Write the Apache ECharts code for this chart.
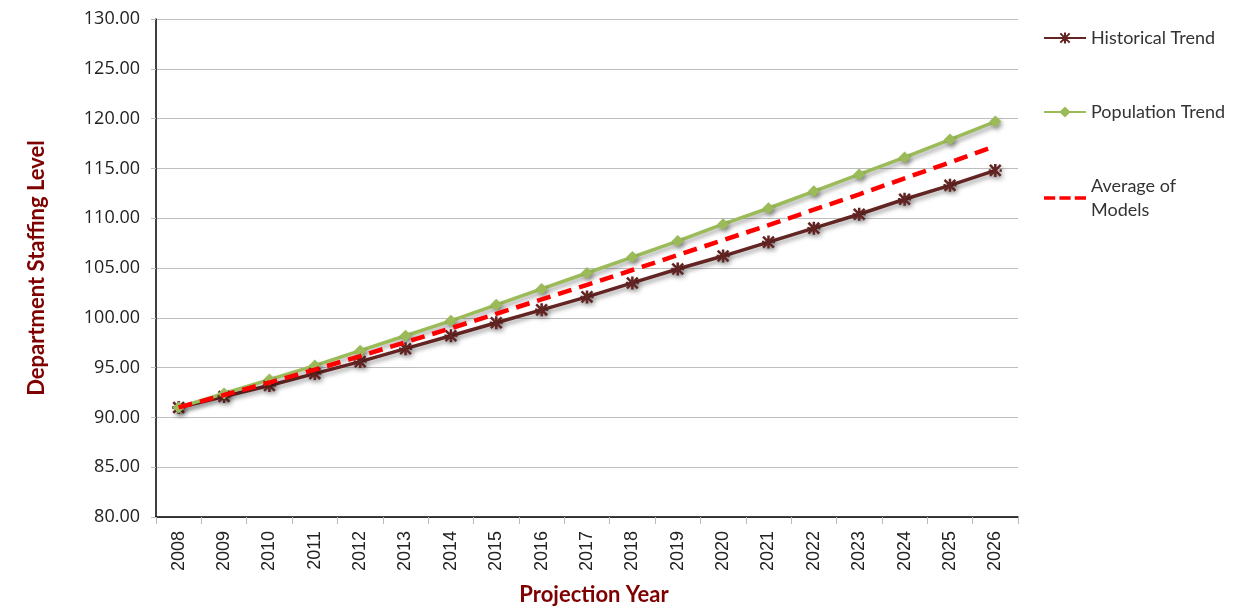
<!DOCTYPE html>
<html>
<head>
<meta charset="utf-8">
<script src="https://cdn.jsdelivr.net/npm/echarts@6/dist/echarts.min.js"></script>
<style>
html,body{margin:0;padding:0;background:#fff;}
#chart{width:1245px;height:611px;}
</style>
</head>
<body>
<div id="chart"></div>
<script>
const years = ['2008','2009','2010','2011','2012','2013','2014','2015','2016','2017','2018','2019','2020','2021','2022','2023','2024','2025','2026'];
const historicalTrend = [91.0, 92.1, 93.2, 94.4, 95.6, 96.9, 98.2, 99.5, 100.8, 102.1, 103.5, 104.9, 106.2, 107.6, 109.0, 110.4, 111.9, 113.3, 114.8];
const populationTrend = [91.0, 92.4, 93.8, 95.2, 96.7, 98.2, 99.7, 101.3, 102.9, 104.5, 106.1, 107.7, 109.4, 111.0, 112.7, 114.4, 116.1, 117.9, 119.7];
const averageOfModels = [91.0, 92.25, 93.5, 94.8, 96.15, 97.55, 98.95, 100.4, 101.85, 103.3, 104.8, 106.3, 107.8, 109.3, 110.85, 112.4, 114.0, 115.6, 117.25];
const seriesNames = ['Historical Trend', 'Population Trend', 'Average of Models'];

const chart = echarts.init(document.getElementById('chart'), null, {renderer: 'canvas'});
const shadow = {shadowColor: 'rgba(0,0,0,0.35)', shadowBlur: 4, shadowOffsetX: 2, shadowOffsetY: 3};
const starPath = 'path://M0,0L10,10M10,0L0,10M5,-1L5,11M-1,5L1,5M9,5L11,5';
const dashIcon = 'path://M0,0h12v4h-12zM16.5,0h12v4h-12zM33,0h12v4h-12z';

chart.setOption({
  animation: false,
  backgroundColor: '#ffffff',
  grid: {left: 156, right: 227, top: 19, bottom: 93, containLabel: false},
  legend: {
    orient: 'vertical',
    left: 1038,
    top: 21,
    itemWidth: 42,
    itemHeight: 14,
    itemGap: 50,
    textStyle: {fontFamily: 'Lato', fontSize: 18, color: '#333', lineHeight: 24},
    formatter: function (n) { return n === 'Average of Models' ? 'Average of\nModels' : n; },
    data: [
      {name: seriesNames[0]},
      {name: seriesNames[1]},
      {name: seriesNames[2], icon: dashIcon, itemStyle: {color: '#ff0000'}}
    ]
  },
  xAxis: {
    type: 'category',
    data: years,
    boundaryGap: true,
    name: 'Projection Year',
    nameLocation: 'middle',
    nameGap: 67,
    nameTextStyle: {fontFamily: 'Lato', fontWeight: 'bold', fontSize: 22, color: '#7f0000', padding: [0, 0, 0, 14]},
    axisLine: {lineStyle: {color: '#000', width: 1.5}},
    axisTick: {show: true, alignWithLabel: false, length: 7, lineStyle: {color: '#bbbbbb'}},
    axisLabel: {rotate: 90, margin: 14, fontFamily: 'Liberation Sans Narrow, Liberation Sans', fontSize: 18, color: '#222'},
    splitLine: {show: false}
  },
  yAxis: {
    type: 'value',
    min: 80,
    max: 130,
    interval: 5,
    name: 'Department Staffing Level',
    nameLocation: 'middle',
    nameGap: 108,
    nameTextStyle: {fontFamily: 'Lato', fontWeight: 'bold', fontSize: 22, color: '#7f0000'},
    axisLine: {show: true, lineStyle: {color: '#000', width: 1.5}},
    axisTick: {show: true, length: 5, lineStyle: {color: '#bbbbbb'}},
    axisLabel: {margin: 16, fontFamily: 'Open Sans', fontSize: 18, color: '#222', formatter: v => v.toFixed(2)},
    splitLine: {show: true, lineStyle: {color: '#bdbdbd', width: 1.2}}
  },
  series: [
    {
      name: seriesNames[0],
      type: 'line',
      data: historicalTrend,
      symbol: starPath,
      symbolSize: 13,
      showSymbol: true,
      itemStyle: Object.assign({color: '#632523', borderColor: '#632523', borderWidth: 2.5}, shadow),
      lineStyle: Object.assign({color: '#632523', width: 3.5}, shadow),
      z: 3
    },
    {
      name: seriesNames[1],
      type: 'line',
      data: populationTrend,
      symbol: 'diamond',
      symbolSize: 12,
      showSymbol: true,
      itemStyle: Object.assign({color: '#9bbb59', borderWidth: 0}, shadow),
      lineStyle: Object.assign({color: '#9bbb59', width: 3.5}, shadow),
      z: 3
    },
    {
      name: seriesNames[2],
      type: 'line',
      data: averageOfModels,
      symbol: 'none',
      showSymbol: false,
      itemStyle: {color: '#ff0000'},
      lineStyle: {color: '#ff0000', width: 4.5, type: [14, 8]},
      z: 4
    }
  ]
});
</script>
</body>
</html>
